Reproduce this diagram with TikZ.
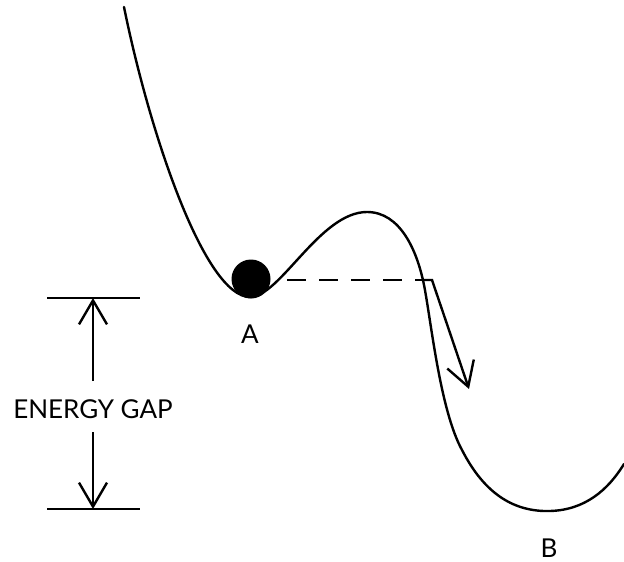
\documentclass[tikz,border=0pt]{standalone}
\usepackage{fontspec}
\setmainfont{Lato}
\usetikzlibrary{arrows.meta}
\begin{document}
\begin{tikzpicture}[x=1pt,y=-1pt,
  curve/.style={line width=2.4pt,line cap=round},
  thin line/.style={line width=2.4pt},
  barb/.style={-{Straight Barb[length=24pt,width=28pt,line width=2.4pt]}},
  lbl/.style={font=\fontsize{26}{28}\selectfont, inner sep=0pt}]
\useasboundingbox (0,0) rectangle (624,562);
% potential curve
\draw[curve] (124,7) .. controls (150,135) and (205,297) .. (250,297)
  .. controls (280,297) and (320,212) .. (367,212)
  .. controls (400,212) and (417,250) .. (424,285)
  .. controls (431,320) and (440,410) .. (462,450)
  .. controls (485,495) and (515,512) .. (550,511)
  .. controls (585,510) and (608,490) .. (624,464);
% ball
\node[circle,fill=black,minimum size=39pt,inner sep=0pt] (ball) at (251,279) {};
\node[lbl] (A) at (250,334) {A};
\node[lbl] (B) at (549,548) {B};
% tunnelling line
\coordinate (d0) at (287,280);
\coordinate (d1) at (424,280);
\coordinate (d2) at (432,280);
\coordinate (tip) at (469,389);
\draw[line width=2.4pt,dash pattern=on 19pt off 13pt] (d0) -- (d1);
\draw[line width=2.4pt,barb] (d1) -- (d2) -- (tip);
% energy gap
\coordinate (tl) at (47,298);
\coordinate (tr) at (140,298);
\coordinate (bl) at (47,509);
\coordinate (br) at (140,509);
\coordinate (tm) at (93,298);
\coordinate (bm) at (93,509);
\draw[thin line] (tl) -- (tr);
\draw[thin line] (bl) -- (br);
\node[lbl] (gap) at (93,409) {ENERGY GAP};
\coordinate (gt) at (93,381);
\coordinate (gb) at (93,432);
\draw[thin line,barb] (gt) -- (tm);
\draw[thin line,barb] (gb) -- (bm);
\end{tikzpicture}
\end{document}
